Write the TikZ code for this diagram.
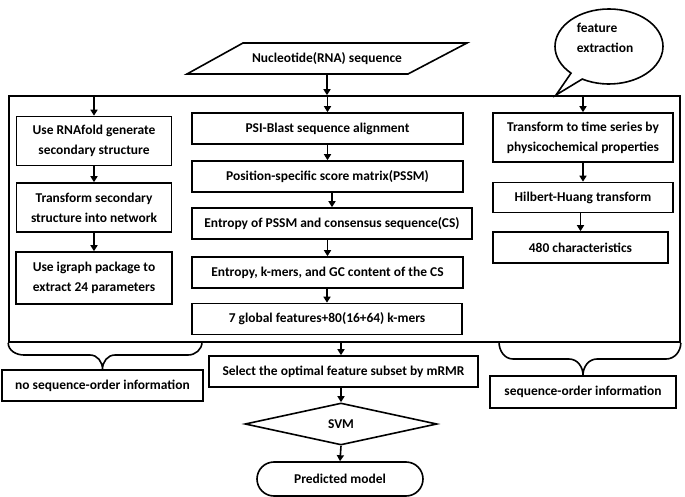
\documentclass[tikz,border=0pt]{standalone}
\usepackage{fontspec}
\setmainfont{Carlito}
\usetikzlibrary{shapes.geometric,shapes.misc,shapes.callouts,arrows.meta}

\begin{document}
\begin{tikzpicture}[x=1bp,y=-1bp,line width=1.6bp,
  every node/.style={font=\fontsize{13.5}{20}\selectfont\bfseries,align=center,inner sep=0pt},
  box/.style={draw,rectangle,minimum height=31bp},
  arr/.style={-{Triangle[length=6bp,width=7bp]}}]
\useasboundingbox (0,0) rectangle (685,497);
% input and frame
\node (seq) at (327,58.5) {Nucleotide(RNA) sequence};
\draw (243,43) -- (467,43) -- (408,74) -- (187,74) -- cycle;
\coordinate (seqbot) at (327,74);
\node[draw,minimum width=671bp,minimum height=246bp] (frame) at (344.5,219) {};
\node[draw,ellipse callout,minimum width=108bp,minimum height=75bp,
  callout absolute pointer={(556,95)}] (bubble) at (609,46.5) {};
\node[align=left] (bubbletext) at (605,37.5) {feature\\extraction};
% left column
\node[box,minimum width=155bp,minimum height=49bp] (rna) at (94,141) {Use RNAfold generate\\secondary structure};
\node[box,minimum width=155bp,minimum height=49bp] (net) at (94,207.5) {Transform secondary\\structure into network};
\node[box,minimum width=156bp,minimum height=52bp] (igraph) at (94,278) {Use igraph package to\\extract 24 parameters};
% middle column
\node[box,minimum width=271bp] (psi) at (327.5,128.5) {PSI-Blast sequence alignment};
\node[box,minimum width=271bp] (pssm) at (327.5,176.5) {Position-specific score matrix(PSSM)};
\node[box,minimum width=280bp] (ent) at (332,223.5) {Entropy of PSSM and consensus sequence(CS)};
\node[box,minimum width=271bp] (kmer) at (327.5,272.5) {Entropy, k-mers, and GC content of the CS};
\node[box,minimum width=270bp] (glob) at (327,319) {7 global features+80(16+64) k-mers};
% right column
\node[box,minimum width=180bp,minimum height=49bp] (ts) at (583,137.5) {Transform to time series by\\physicochemical properties};
\node[box,minimum width=180bp,minimum height=30bp] (hht) at (583,197.5) {Hilbert-Huang transform};
\node[box,minimum width=175bp] (chars) at (580.5,247.5) {480 characteristics};
% selection and model
\node[box,minimum width=269bp] (mrmr) at (343.5,371.5) {Select the optimal feature subset by mRMR};
\node[draw,diamond,minimum width=192bp,minimum height=42bp] (svm) at (341,424) {SVM};
\node[draw,rounded rectangle,minimum width=166bp,minimum height=34bp] (model) at (340,479) {Predicted model};
% order labels
\node[box,minimum width=201bp] (noord) at (102.5,385.5) {no sequence-order information};
\node[box,minimum width=186bp,minimum height=32bp] (ord) at (583,392) {sequence-order information};

\draw[arr] (seqbot) -- (seqbot |- frame.north);
\draw[arr] (rna.north |- frame.north) -- (rna.north);
\draw[arr] (psi.north |- frame.north) -- (psi.north);
\draw[arr] (ts.north |- frame.north) -- (ts.north);
\foreach \a/\b in {rna/net,net/igraph,psi/pssm,pssm/ent,ent/kmer,kmer/glob,ts/hht,hht/chars}
  \draw[arr] (\b.north |- \a.south) -- (\b.north);
\draw[arr] (svm.north |- frame.south) -- (svm.north |- mrmr.north);
\draw[arr] (svm.north |- mrmr.south) -- (svm.north);
\draw[arr] (svm.south) -- (model.north);
% braces
\draw (frame.south west) to[out=-90,in=180] (24,355) -- (90,355) to[out=0,in=90] (noord.north)
  to[out=90,in=180] (115,355) -- (188,355) to[out=0,in=-90] (202,342);
\draw (499,342) to[out=-90,in=180] (513,359) -- (569,359) to[out=0,in=90] (ord.north)
  to[out=90,in=180] (597,359) -- (666,359) to[out=0,in=-90] (frame.south east);
\end{tikzpicture}
\end{document}
